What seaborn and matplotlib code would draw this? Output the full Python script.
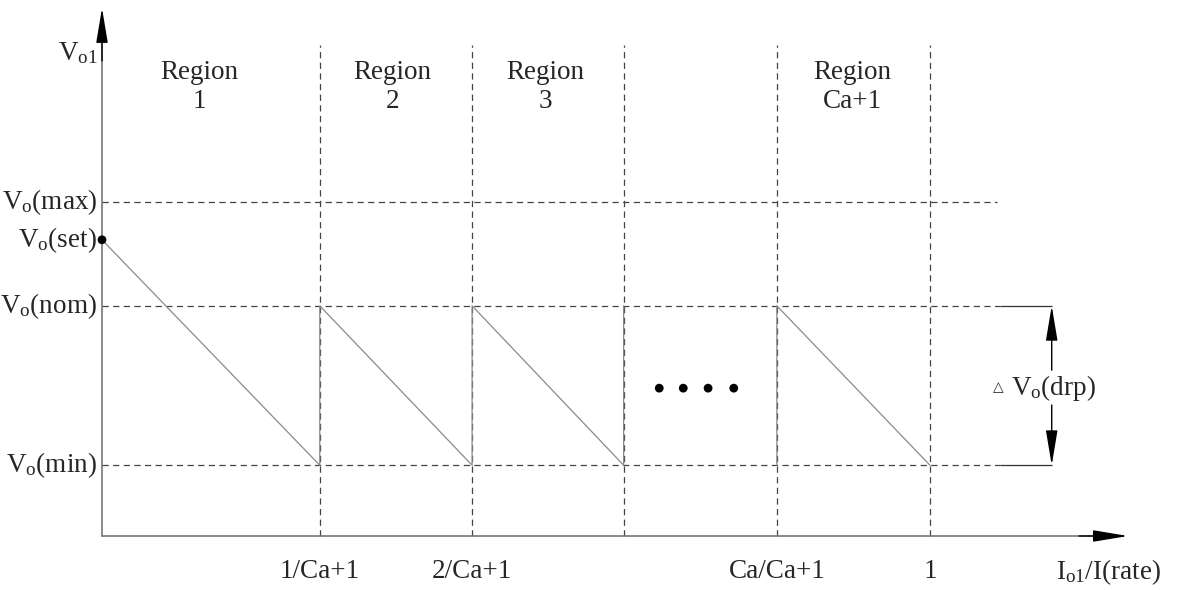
import numpy as np
import pandas as pd
import seaborn as sns
import matplotlib.pyplot as plt

# region boundaries on the load axis (I_o1 / I_rate)
bounds = [0.263, 0.447, 0.630, 0.815, 1.0]
tick_labels = ['1/Ca+1', '2/Ca+1', '', 'Ca/Ca+1', '1']

# voltage levels (fraction of axis height)
v_max = 0.633
v_set = 0.561
v_nom = 0.436
v_min = 0.134
level_labels = ['max', 'set', 'nom', 'min']
level_values = [v_max, v_set, v_nom, v_min]

region_names = ['Region\n1', 'Region\n2', 'Region\n3', 'Region\nCa+1']
region_x = [0.118, 0.351, 0.535, 0.906]

# the "...." between region 3 and region Ca+1
dots_x = [0.673, 0.702, 0.732, 0.763]
dots_v = [0.28, 0.28, 0.28, 0.28]

# sawtooth droop curve, two drawn pieces
saw_x = [0, bounds[0], bounds[0], bounds[1], bounds[1], bounds[2], bounds[2],
         bounds[3], bounds[3], bounds[4]]
saw_v = [v_set, v_min, v_nom, v_min, v_nom, v_min, v_nom,
         v_min, v_nom, v_min]
saw_seg = [1, 1, 1, 1, 1, 1, 1, 2, 2, 2]

sns.set_theme(style='white')
plt.rcParams['font.family'] = ['Liberation Serif', 'DejaVu Sans']
plt.rcParams['mathtext.fontset'] = 'custom'
plt.rcParams['mathtext.rm'] = 'Liberation Serif'
plt.rcParams['mathtext.it'] = 'Liberation Serif:italic'

fig = plt.figure(figsize=(11.93, 5.90), dpi=100)
ax = fig.add_axes([0, 0, 1, 1])
ax.set_xlim(-102 / 828, 1091 / 828)
ax.set_ylim(-54 / 528, 536 / 528)
ax.axis('off')

fs = 19.5
dash = (0, (5, 3.5))
dcol = '#444444'

# dashed grid lines
ax.vlines(bounds, 0, 0.93, colors=dcol, linestyles=dash, lw=0.9, zorder=1)
ax.hlines(v_max, 0, 1.081, colors=dcol, linestyles=dash, lw=0.9, zorder=1)
ax.hlines([v_nom, v_min], 0, 1.0845, colors=dcol, linestyles=dash, lw=0.9, zorder=1)
ax.hlines([v_nom, v_min], 1.0845, 1.147, colors='#333333', lw=0.9, zorder=1)

# droop curve
df = pd.DataFrame({'x': saw_x, 'v': saw_v, 'seg': saw_seg})
sns.lineplot(data=df, x='x', y='v', units='seg', estimator=None, sort=False,
             color='#8a8a8a', lw=0.9, ax=ax, zorder=2)

sns.scatterplot(x=dots_x, y=dots_v, color='black', s=40, edgecolor='none', ax=ax, zorder=3)
sns.scatterplot(x=[0], y=[v_set], color='black', s=40, edgecolor='none', ax=ax, zorder=4)

# axes with arrows
ax.plot([0, 0], [0, 0.96], color='#777777', lw=1.2, zorder=3)
ax.plot([0, 1.2], [0, 0], color='#777777', lw=1.2, zorder=3)
head = dict(arrowstyle='-|>,head_length=1.8,head_width=0.3', color='black',
            lw=1.0, shrinkA=0, shrinkB=0)
ax.annotate('', xy=(0, 1.0), xytext=(0, 0.9), arrowprops=head)
ax.annotate('', xy=(1.239, 0), xytext=(1.18, 0), arrowprops=head)

# delta V drop arrow
ax.annotate('', xy=(1.147, v_nom), xytext=(1.147, 0.314), arrowprops=head)
ax.annotate('', xy=(1.147, v_min), xytext=(1.147, 0.248), arrowprops=head)
ax.text(1.149, 0.28, r'V$_{\mathrm{o}}$(drp)', fontsize=fs, ha='center', va='center')
ax.text(1.083, 0.282, '\u25b3', fontsize=10, ha='center', va='center', family='DejaVu Sans')

# level labels
for name, v in zip(level_labels, level_values):
    ax.text(-0.006, v, r'V$_{\mathrm{o}}$(' + name + ')', fontsize=fs,
            ha='right', va='center')

# tick labels
for x, lab in zip(bounds, tick_labels):
    if lab:
        ax.text(x, -0.068, lab, fontsize=fs, ha='center', va='center')

for x, name in zip(region_x, region_names):
    ax.text(x, 0.85, name, fontsize=fs, ha='center', va='center', linespacing=1.2)

ax.text(-0.029, 0.915, r'V$_{\mathrm{o1}}$', fontsize=fs, ha='center', va='center')
ax.text(1.216, -0.068, r'I$_{\mathrm{o1}}$/I(rate)', fontsize=fs, ha='center', va='center')

fig.savefig('out.png', dpi=100, facecolor='white')
